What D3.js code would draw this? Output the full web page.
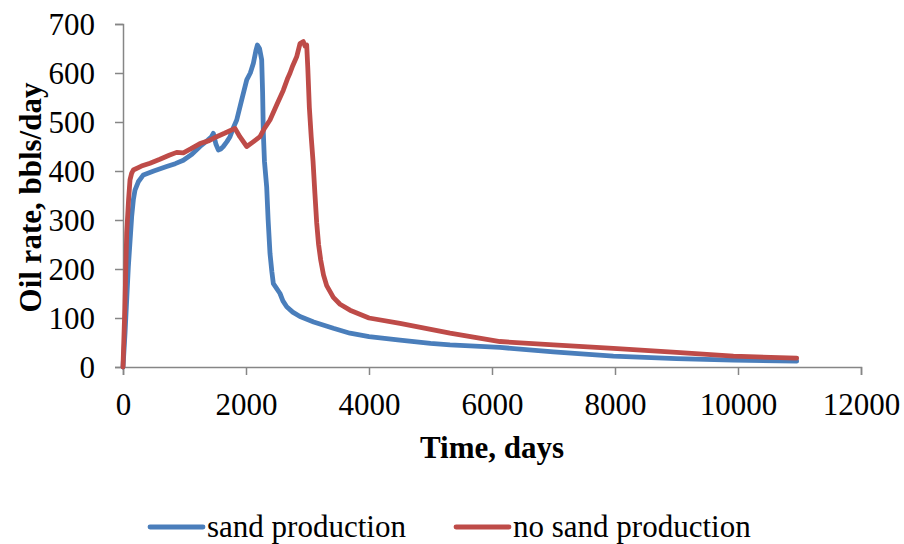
<!DOCTYPE html>
<html>
<head>
<meta charset="utf-8">
<script src="https://cdn.jsdelivr.net/npm/d3@7/dist/d3.min.js"></script>
<style>
  html, body { margin: 0; padding: 0; background: #fff; }
  svg { display: block; }
  text { font-family: "Liberation Serif", "Times New Roman", serif; fill: #000; }
</style>
</head>
<body>
<svg id="chart" width="904" height="544"></svg>
<script>
// Oil rate history, with and without sand production
const seriesNames = ["sand production", "no sand production"];
const seriesColors = ["#4A7EBB", "#BE4B48"];

const sandDays = [0, 33, 87, 141, 168, 195, 249, 331, 500, 710, 850, 981, 1120, 1252, 1380, 1440, 1469,
  1510, 1550, 1590, 1631, 1690, 1740, 1800, 1849, 1930, 2012, 2070, 2120, 2160, 2185, 2220, 2255, 2270,
  2282, 2300, 2336, 2360, 2390, 2420, 2445, 2500, 2553, 2600, 2662, 2760, 2878, 3100, 3420, 3691, 4000,
  4504, 5000, 5317, 6130, 7000, 7973, 9000, 9925, 10954];
const sandRate = [0, 69, 205, 307, 341, 361, 378, 392, 400, 409, 415, 422, 434, 450, 463, 470, 477,
  455, 443, 445, 450, 460, 470, 490, 504, 545, 586, 600, 620, 645, 657, 650, 627, 560,
  477, 420, 368, 300, 232, 195, 170, 160, 150, 135, 123, 112, 103, 92, 79, 69, 62,
  55, 48, 45, 40, 31, 22, 17, 14, 12];

const noSandDays = [0, 30, 60, 90, 114, 140, 168, 300, 439, 600, 750, 873, 981, 1100, 1252, 1400, 1523,
  1650, 1821, 1900, 2012, 2100, 2228, 2300, 2390, 2500, 2607, 2680, 2716, 2760, 2824, 2878, 2932, 2960,
  2987, 3005, 3030, 3060, 3090, 3120, 3149, 3180, 3215, 3260, 3312, 3420, 3529, 3691, 4000, 4504, 5317,
  6130, 7000, 7973, 9000, 9925, 10954];
const noSandRate = [0, 120, 273, 340, 382, 395, 402, 410, 416, 424, 432, 438, 437, 445, 456, 462, 470,
  477, 487, 470, 450, 458, 470, 487, 504, 535, 565, 590, 600, 615, 633, 660, 664, 655,
  657, 610, 530, 470, 420, 355, 295, 250, 218, 188, 166, 142, 128, 116, 100, 89, 69,
  52, 45, 38, 30, 22, 18];

const xTicks = [0, 2000, 4000, 6000, 8000, 10000, 12000];
const yTicks = [0, 100, 200, 300, 400, 500, 600, 700];

const svg = d3.select("#chart");
const plotLeft = 123, plotRight = 861, plotTop = 24, plotBottom = 367;

const x = d3.scaleLinear().domain([0, 12000]).range([plotLeft, plotRight]);
const y = d3.scaleLinear().domain([0, 700]).range([plotBottom, plotTop]);

const axisColor = "#868686";

// Y axis
const gy = svg.append("g")
  .attr("transform", `translate(${plotLeft},0)`)
  .call(d3.axisLeft(y).tickValues(yTicks).tickSize(8).tickPadding(20).tickFormat(d3.format("d")));
// X axis
const gx = svg.append("g")
  .attr("transform", `translate(0,${plotBottom})`)
  .call(d3.axisBottom(x).tickValues(xTicks).tickSize(8).tickPadding(18).tickFormat(d3.format("d")));

[gx, gy].forEach(g => {
  g.select(".domain").attr("stroke", axisColor).attr("stroke-width", 1.5);
  g.selectAll(".tick line").attr("stroke", axisColor).attr("stroke-width", 1.5);
  g.selectAll(".tick text")
    .style("font-family", "'Liberation Serif', 'Times New Roman', serif")
    .style("font-size", "31px")
    .attr("fill", "#000");
});
gy.selectAll(".tick text").attr("dy", "0.33em");
gx.selectAll(".tick text").attr("dy", "0.71em");

// Series lines
const line = d3.line().x(d => x(d[0])).y(d => y(d[1]));
const seriesData = [
  d3.zip(sandDays, sandRate),
  d3.zip(noSandDays, noSandRate)
];
[0, 1].forEach(i => {
  svg.append("path")
    .datum(seriesData[i])
    .attr("fill", "none")
    .attr("stroke", seriesColors[i])
    .attr("stroke-width", 4.8)
    .attr("stroke-linejoin", "round")
    .attr("stroke-linecap", "round")
    .attr("d", line);
});

// Axis titles
svg.append("text")
  .attr("x", (plotLeft + plotRight) / 2)
  .attr("y", 458)
  .attr("text-anchor", "middle")
  .style("font-size", "31px")
  .style("font-weight", "bold")
  .text("Time, days");

svg.append("text")
  .attr("transform", `translate(41,${(plotTop + plotBottom) / 2 + 2}) rotate(-90)`)
  .attr("text-anchor", "middle")
  .style("font-size", "31px")
  .style("font-weight", "bold")
  .text("Oil rate, bbls/day");

// Legend
const legendX = [150, 456];
const legend = svg.append("g");
seriesNames.forEach((name, i) => {
  legend.append("line")
    .attr("x1", legendX[i]).attr("x2", legendX[i] + 53)
    .attr("y1", 527).attr("y2", 527)
    .attr("stroke", seriesColors[i])
    .attr("stroke-width", 4.8)
    .attr("stroke-linecap", "round");
  legend.append("text")
    .attr("x", legendX[i] + 57)
    .attr("y", 537)
    .style("font-size", "31px")
    .text(name);
});
</script>
</body>
</html>
